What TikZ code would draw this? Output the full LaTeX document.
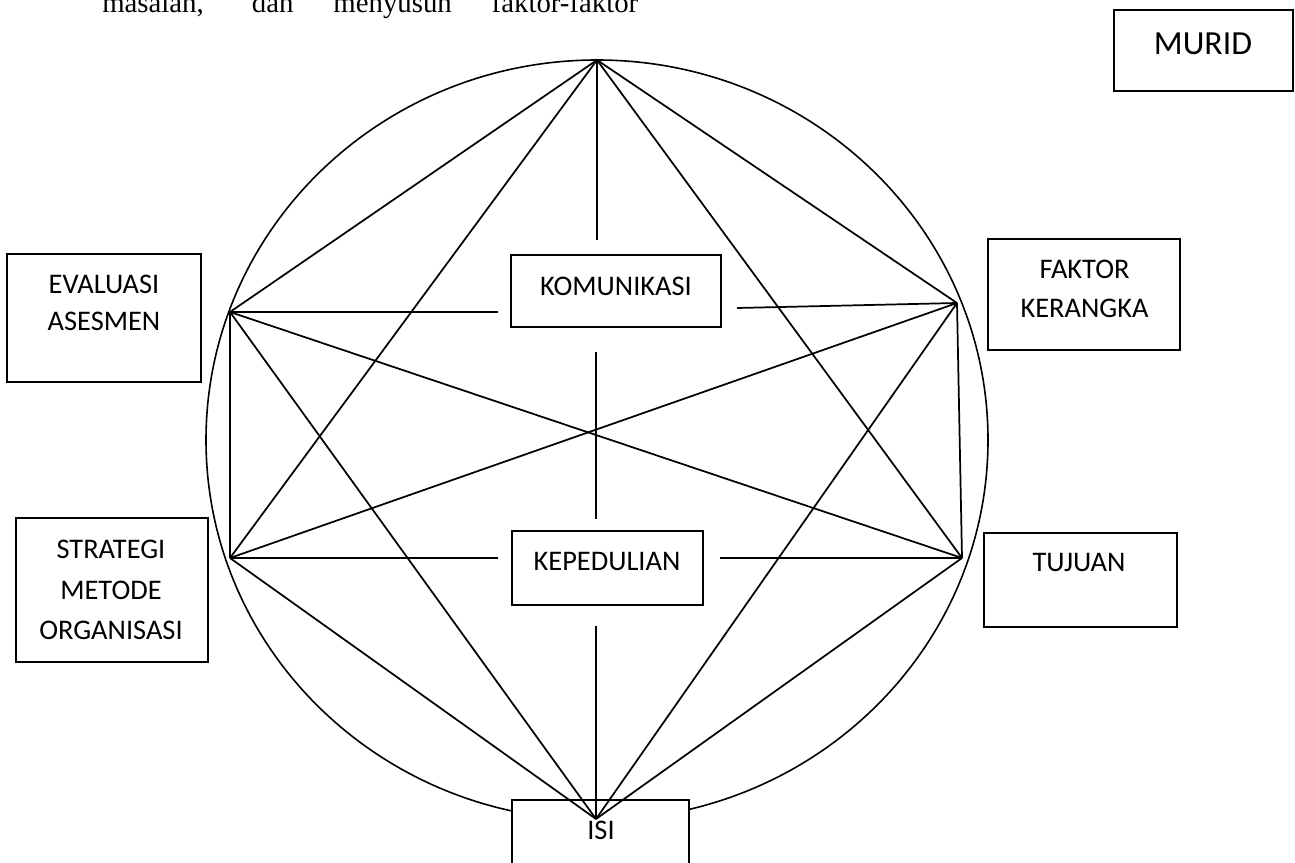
\documentclass[tikz,border=0pt]{standalone}
\usepackage{fontspec}
\setmainfont{Carlito}
\newfontfamily\timesfont{Liberation Serif}

\begin{document}
\begin{tikzpicture}[
  x=0.75pt, y=-0.75pt,
  frame/.style 2 args={draw, line width=1.3pt, fill=white, inner sep=0pt,
                       minimum width=#1*0.75pt, minimum height=#2*0.75pt},
  lbl/.style={anchor=north, inner sep=0pt, align=center,
              font=\fontsize{21.3}{29}\selectfont},
  ln/.style={line width=1.3pt},
]
  \useasboundingbox (0,0) rectangle (1295,863);
  \clip (0,0) rectangle (1295,863);

  \node[anchor=base west, inner sep=0pt,
        font=\timesfont\fontsize{21.6}{26}\selectfont] (head) at (102,13)
       {\makebox[402pt][s]{masalah, dan menyusun faktor-faktor}};

  \draw[line width=1.2pt] (597,440) ellipse [x radius=293.25pt, y radius=285pt];

  \node[frame={179}{81}]  (murid) at (1203.5,50.5) {};
  \node[frame={210}{72}]  (kom)   at (616,291)    {};
  \node[frame={191}{74}]  (kep)   at (607.5,568)  {};
  \node[frame={177}{100}] (isi)   at (600.5,850)  {};
  \node[frame={194}{128}] (eva)   at (104,318)    {};
  \node[frame={192}{144}] (str)   at (112,590)    {};
  \node[frame={192}{111}] (fak)   at (1084,294.5) {};
  \node[frame={193}{94}]  (tuj)   at (1080.5,580) {};

  \coordinate (T)  at (597,60);
  \coordinate (B)  at (596,819);
  \coordinate (L1) at (230,312);
  \coordinate (L2) at (230,558);
  \coordinate (R1) at (957,303);
  \coordinate (R2) at (962,558);
  \coordinate (vA) at (597,240);
  \coordinate (vB) at (596,352);
  \coordinate (vC) at (596,519);
  \coordinate (vD) at (596,626);
  \coordinate (hA) at (498,312);
  \coordinate (hB) at (737,308);
  \coordinate (hC) at (498,558);
  \coordinate (hD) at (720,558);

  \draw[ln] (T) -- (L1);
  \draw[ln] (T) -- (L2);
  \draw[ln] (T) -- (R1);
  \draw[ln] (T) -- (R2);
  \draw[ln] (B) -- (L1);
  \draw[ln] (B) -- (L2);
  \draw[ln] (B) -- (R1);
  \draw[ln] (B) -- (R2);
  \draw[ln] (T) -- (vA);
  \draw[ln] (vB) -- (vC);
  \draw[ln] (vD) -- (B);
  \draw[ln] (L1) -- (hA);
  \draw[ln] (hB) -- (R1);
  \draw[ln] (L2) -- (hC);
  \draw[ln] (hD) -- (R2);
  \draw[ln] (L1) -- (L2);
  \draw[ln] (R1) -- (R2);
  \draw[ln] (L1) -- (R2);
  \draw[ln] (L2) -- (R1);

  \node[lbl, font=\fontsize{25.3}{30}\selectfont] (murid-t) at (1203,33) {MURID};
  \node[lbl] (kom-t) at (616,277) {KOMUNIKASI};
  \node[lbl] (kep-t) at (607,552) {KEPEDULIAN};
  \node[lbl] (isi-t) at (601,821) {ISI};
  \node[lbl, font=\fontsize{21.3}{27.5}\selectfont] (eva-t) at (104,275) {EVALUASI\\ASESMEN};
  \node[lbl, font=\fontsize{21.3}{30.4}\selectfont] (str-t) at (111,540) {STRATEGI\\METODE\\ORGANISASI};
  \node[lbl, font=\fontsize{21.3}{29.25}\selectfont] (fak-t) at (1084.5,260) {FAKTOR\\KERANGKA};
  \node[lbl] (tuj-t) at (1079,553) {TUJUAN};
\end{tikzpicture}
\end{document}
